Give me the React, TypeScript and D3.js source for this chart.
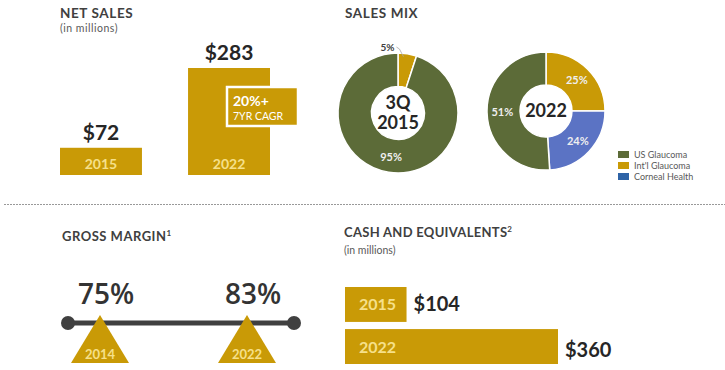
import React from 'react';
import * as d3 from 'd3';

// net sales (in millions)
const salesYears = ['2015', '2022'];
const salesValues = [72, 283];

// sales mix shares, in percent
const mixSegments = ["Int'l Glaucoma", 'Corneal Health', 'US Glaucoma'];
const mix2015 = [5, 0, 95];
const mix2022 = [25, 24, 51];
const legendLabels = ['US Glaucoma', "Int'l Glaucoma", 'Corneal Health'];

// gross margin
const marginYears = [2014, 2022];
const marginValues = [75, 83];

// cash and equivalents (in millions)
const cashYears = ['2015', '2022'];
const cashValues = [104, 360];

const GOLD = '#C99A06';
const GREEN = '#5C6B38';
const BLUE = '#5B73C4';
const DARK = '#404040';
const PALE = '#F6E08A';
const FONT = 'Lato, "Open Sans", sans-serif';

const segColor: Record<string, string> = {
  "Int'l Glaucoma": GOLD,
  'Corneal Health': BLUE,
  'US Glaucoma': GREEN,
};
const legendColor: Record<string, string> = {
  'US Glaucoma': GREEN,
  "Int'l Glaucoma": GOLD,
  'Corneal Health': '#2E63A6',
};

const Donut = ({ cx, cy, r, values, center, labels }: any) => {
  const pie = d3.pie<number>().sort(null).value(d => d);
  const arcs = pie(values);
  const arc = d3.arc<d3.PieArcDatum<number>>().innerRadius(r * 0.44).outerRadius(r);
  const labelArc = d3.arc<d3.PieArcDatum<number>>().innerRadius(r * 0.74).outerRadius(r * 0.74);
  return (
    <g transform={`translate(${cx},${cy})`}>
      {arcs.map((a, i) =>
        a.value > 0 ? (
          <path key={i} d={arc(a) || ''} fill={segColor[mixSegments[i]]} stroke="#fff" strokeWidth={1.5} />
        ) : null
      )}
      {arcs.map((a, i) => {
        if (a.value === 0 || !labels) return null;
        if (a.value < 10) {
          // small slice: label outside with leader line
          const [mx, my] = d3.arc<d3.PieArcDatum<number>>().innerRadius(r * 0.9).outerRadius(r * 0.9).centroid(a);
          return (
            <g key={'l' + i}>
              <polyline points={`${mx - 3},${my - 3} ${mx - 7},${-r - 4} ${mx - 10},${-r - 6}`} fill="none" stroke="#aaa" strokeWidth={0.8} />
              <text x={mx - 12} y={-r - 2} textAnchor="end" fontSize={10} fontWeight="bold" fill={DARK}>{a.value}%</text>
            </g>
          );
        }
        const [lx, ly] = labelArc.centroid(a);
        return (
          <text key={'l' + i} x={lx} y={ly + 4} textAnchor="middle" fontSize={11} fontWeight="bold" fill="#EFEFEF">
            {a.value}%
          </text>
        );
      })}
      {center.map((t: string, i: number) => (
        <text key={'c' + i} x={0} y={(i - (center.length - 1) / 2) * 20 + 6} textAnchor="middle" fontSize={18} fontWeight="bold" fill="#262626">
          {t}
        </text>
      ))}
    </g>
  );
};

export default function App() {
  // net sales: vertical bars
  const salesX = d3.scaleBand().domain(salesYears).range([60, 270]).paddingInner(0.36);
  const salesY = d3.scaleLinear().domain([0, 283]).range([175, 68]);

  // cash: horizontal bars
  const cashX = d3.scaleLinear().domain([0, 360]).range([345, 558]);
  const cashY = d3.scaleBand().domain(cashYears).range([287, 364]).paddingInner(0.17);

  // margin positions along the line
  const marginX = d3.scaleLinear().domain(marginYears).range([100, 247]);
  const lineY = 323;

  return (
    <svg width={725} height={370} style={{ position: 'absolute', left: 0, top: 0, fontFamily: FONT }}>
      <rect width={725} height={370} fill="#fff" />

      {/* NET SALES */}
      <text x={60} y={18} fontSize={13.5} fontWeight="bold" fill={DARK} letterSpacing={0.6}>NET SALES</text>
      <text x={60} y={32} fontSize={10.5} fill="#595959" letterSpacing={0.5}>(in millions)</text>
      {salesYears.map((yr, i) => {
        const x = salesX(yr)!;
        const w = salesX.bandwidth();
        return (
          <g key={yr}>
            <rect x={x} y={salesY(salesValues[i])} width={w} height={salesY(0) - salesY(salesValues[i])} fill={GOLD} />
            <text x={x + w / 2} y={salesY(0) - 6} textAnchor="middle" fontSize={14} fontWeight="bold" fill={PALE}>{yr}</text>
            <text x={x + w / 2} y={salesY(salesValues[i]) - 8} textAnchor="middle" fontSize={21} fontWeight="bold" fill="#262626">
              ${salesValues[i]}
            </text>
          </g>
        );
      })}
      <rect x={227} y={87} width={71} height={39} fill={GOLD} stroke="#fff" strokeWidth={2.5} />
      <text x={233} y={106} fontSize={14} fontWeight="bold" fill="#fff">20%+</text>
      <text x={233} y={120} fontSize={10.5} fill="#fff">7YR CAGR</text>

      {/* SALES MIX */}
      <text x={345} y={18} fontSize={13.5} fontWeight="bold" fill={DARK} letterSpacing={0.6}>SALES MIX</text>
      <Donut cx={398} cy={113} r={60} values={mix2015} center={['3Q', '2015']} labels />
      <Donut cx={546} cy={111} r={59} values={mix2022} center={['2022']} labels />
      {legendLabels.map((l, i) => (
        <g key={l}>
          <rect x={618} y={151 + i * 11} width={11} height={7} fill={legendColor[l]} />
          <text x={634} y={158 + i * 11} fontSize={9} fill="#595959">{l}</text>
        </g>
      ))}

      {/* divider */}
      <line x1={4} x2={725} y1={204.5} y2={204.5} stroke="#999" strokeWidth={1} strokeDasharray="2,1" />

      {/* GROSS MARGIN */}
      <text x={62} y={241} fontSize={13} fontWeight="bold" fill={DARK} letterSpacing={0.5}>
        GROSS MARGIN<tspan fontSize={8} dy={-5}>1</tspan>
      </text>
      <line x1={68} x2={294} y1={lineY} y2={lineY} stroke={DARK} strokeWidth={5} />
      <circle cx={68} cy={lineY} r={7} fill={DARK} />
      <circle cx={294} cy={lineY} r={7} fill={DARK} />
      {marginYears.map((yr, i) => {
        const x = marginX(yr);
        return (
          <g key={yr}>
            <path d={`M${x},315 L${x + 29},363 L${x - 29},363 Z`} fill={GOLD} />
            <text x={x} y={359} textAnchor="middle" fontSize={13} fontWeight="bold" fill={PALE}>{yr}</text>
            <text x={x + 6} y={304} textAnchor="middle" fontSize={28} fontWeight={600} fill="#333"
              style={{ fontFamily: '"Open Sans", sans-serif' }}>
              {marginValues[i]}%
            </text>
          </g>
        );
      })}

      {/* CASH AND EQUIVALENTS */}
      <text x={344} y={237} fontSize={13} fontWeight="bold" fill={DARK} letterSpacing={0.3}>
        CASH AND EQUIVALENTS<tspan fontSize={8} dy={-5}>2</tspan>
      </text>
      <text x={344} y={254} fontSize={10.5} fill="#595959">(in millions)</text>
      {cashYears.map((yr, i) => {
        const y = cashY(yr)!;
        const h = cashY.bandwidth();
        return (
          <g key={yr}>
            <rect x={cashX(0)} y={y} width={cashX(cashValues[i]) - cashX(0)} height={h} fill={GOLD} />
            <text x={cashX(0) + 14} y={y + h / 2 + 6} fontSize={16} fontWeight="bold" fill={PALE}>{yr}</text>
            <text x={cashX(cashValues[i]) + 7} y={y + h / 2 + 7 + (i === 1 ? 3 : 0)} fontSize={20} fontWeight="bold" fill="#262626">
              ${cashValues[i]}
            </text>
          </g>
        );
      })}
    </svg>
  );
}
